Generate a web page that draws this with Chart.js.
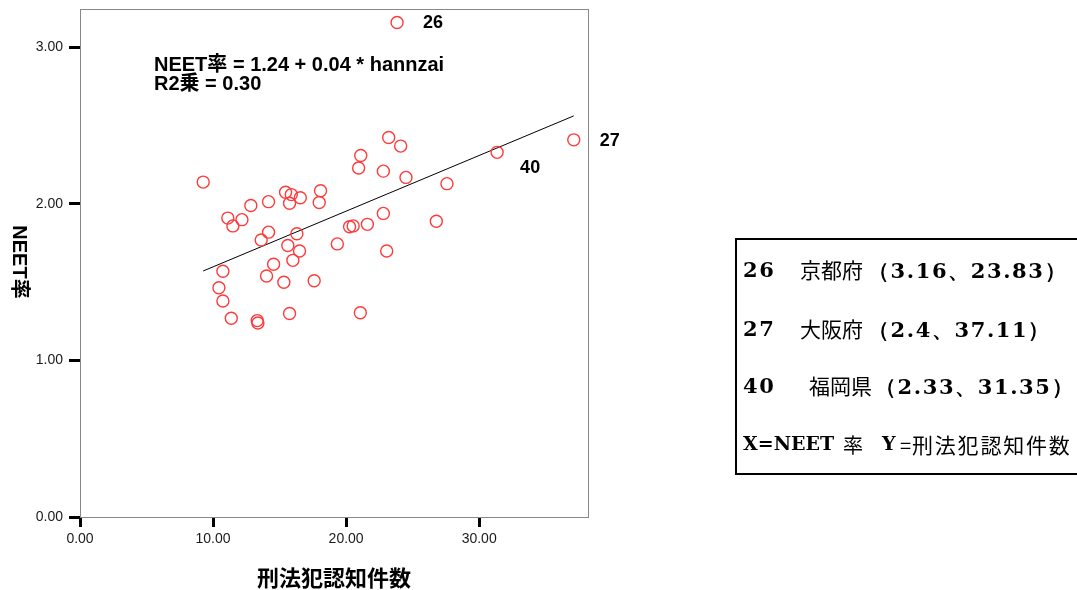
<!DOCTYPE html>
<html>
<head>
<meta charset="utf-8">
<script src="https://cdn.jsdelivr.net/npm/chart.js@4.4.0/dist/chart.umd.min.js"></script>
<style>
  body { margin: 0; background: #fff; }
  #wrap { position: relative; width: 1077px; height: 590px; overflow: hidden; }
  #chart { position: absolute; left: 0; top: 0; }
  #note { position: absolute; left: 735px; top: 238px; width: 400px; height: 233px; border: 2px solid #000; }
  .t { position: absolute; white-space: pre; line-height: 1; color: #000; }
  .num { font: bold 21px "DejaVu Serif", "Liberation Serif", serif; letter-spacing: 1.6px; }
  .jp { font: 21px "Noto Sans CJK JP", sans-serif; }
</style>
</head>
<body>
<div id="wrap">
  <canvas id="chart" width="1077" height="590"></canvas>
  <div id="note">
    <span class="t num" style="left:6px;top:17px">26</span>
    <span class="t jp" style="left:63px;top:14px">京都府</span>
    <span class="t num" style="left:131px;top:17px">（3.16、23.83）</span>

    <span class="t num" style="left:6px;top:76px">27</span>
    <span class="t jp" style="left:63px;top:73px">大阪府</span>
    <span class="t num" style="left:131px;top:76px">（2.4、37.11）</span>

    <span class="t num" style="left:6px;top:133px">40</span>
    <span class="t jp" style="left:72px;top:130px">福岡県</span>
    <span class="t num" style="left:138px;top:133px">（2.33、31.35）</span>

    <span class="t num" style="left:6px;top:192px;font-size:19px;letter-spacing:0">X=NEET</span>
    <span class="t jp" style="left:106px;top:190px;font-size:20px">率</span>
    <span class="t num" style="left:145px;top:192px;font-size:19px;letter-spacing:0">Y</span>
    <span class="t jp" style="left:163px;top:190px;font-size:20px">=</span>
    <span class="t jp" style="left:175px;top:189px;font-size:21px;letter-spacing:1.8px">刑法犯認知件数</span>
  </div>
</div>
<script>
// 刑法犯認知件数 (x) and NEET率 (y) per prefecture; first three are labelled
const crimeRate = [23.83, 37.11, 31.35,
  9.26, 11.11, 11.49, 12.17, 12.84, 14.17, 15.45, 15.88, 15.75, 16.56,
  18.08, 17.98, 23.2, 24.1, 21.1, 20.94, 22.8, 24.5, 27.58, 22.8,
  26.78, 20.26, 20.53, 21.6, 19.34, 23.05, 21.07, 10.74, 10.44, 10.74,
  11.37, 13.32, 13.37, 15.75, 14.17, 13.62, 15.62, 16.3, 16.5, 16.0,
  14.55, 14.02, 15.32, 17.6];
const neetRate = [3.16, 2.41, 2.33,
  2.14, 1.91, 1.86, 1.90, 1.99, 2.015, 2.075, 2.06, 2.005, 2.04,
  2.085, 2.01, 2.425, 2.37, 2.31, 2.23, 2.21, 2.17, 2.13, 1.94,
  1.89, 1.855, 1.86, 1.87, 1.745, 1.70, 1.305, 1.57, 1.465, 1.38,
  1.27, 1.255, 1.24, 1.30, 1.82, 1.77, 1.735, 1.81, 1.70, 1.64,
  1.615, 1.54, 1.50, 1.51];

const pointLabels = ['26', '27', '40'];
const labelIndex = [0, 1, 2];
const labelDx = [26, 26, 23];
const labelDy = [1, 1, 16];

// fitted line end points
const fitX = [9.26, 37.11];
const fitY = [1.572, 2.563];

const xTicks = [0, 10, 20, 30];
const yTicks = [0, 1, 2, 3];
const xMax = 38.18;
const yMax = 3.246;

const equation = ['NEET率 = 1.24 + 0.04 * hannzai', 'R2乗 = 0.30'];
const xTitle = '刑法犯認知件数';
const yTitle = 'NEET率';

const decor = {
  id: 'decor',
  beforeDatasetsDraw(chart) {
    const { ctx, chartArea: a } = chart;
    ctx.save();
    ctx.strokeStyle = '#888';
    ctx.lineWidth = 1;
    ctx.strokeRect(a.left + 0.5, a.top + 0.5, a.right - a.left, a.bottom - a.top);
    ctx.restore();
  },
  afterDraw(chart) {
    const { ctx, scales: { x, y } } = chart;
    ctx.save();
    ctx.fillStyle = '#000';
    ctx.textBaseline = 'middle';
    ctx.textAlign = 'left';

    ctx.font = 'bold 18px "Liberation Sans", Arial, sans-serif';
    pointLabels.forEach((t, i) => {
      const k = labelIndex[i];
      ctx.fillText(t, x.getPixelForValue(crimeRate[k]) + labelDx[i], y.getPixelForValue(neetRate[k]) + labelDy[i]);
    });

    ctx.font = 'bold 20px "Liberation Sans", "Noto Sans CJK JP", sans-serif';
    ctx.fillText(equation[0], 154, 65);
    ctx.fillText(equation[1], 154, 84);

    // axis titles
    ctx.textAlign = 'center';
    ctx.font = 'bold 22px "Noto Sans CJK JP", sans-serif';
    ctx.fillText(xTitle, (chart.chartArea.left + chart.chartArea.right) / 2, 578);

    ctx.translate(19, 262);
    ctx.rotate(Math.PI / 2);
    ctx.font = 'bold 20px "Liberation Sans", "Noto Sans CJK JP", sans-serif';
    ctx.fillText(yTitle, 0, 0);
    ctx.restore();
  }
};

const tickFont = { family: '"Liberation Sans", Arial, sans-serif', size: 14 };

new Chart(document.getElementById('chart'), {
  data: {
    datasets: [{
      type: 'scatter',
      data: crimeRate.map((v, i) => ({ x: v, y: neetRate[i] })),
      pointRadius: 6,
      pointBorderWidth: 1.4,
      borderColor: '#ff3a3a',
      backgroundColor: 'rgba(0,0,0,0)'
    }, {
      type: 'line',
      data: fitX.map((v, i) => ({ x: v, y: fitY[i] })),
      borderColor: '#000',
      borderWidth: 1,
      pointRadius: 0
    }]
  },
  options: {
    responsive: false,
    animation: false,
    layout: { padding: { left: 0, top: 9, right: 489, bottom: 0 } },
    plugins: { legend: { display: false }, tooltip: { enabled: false } },
    scales: {
      x: {
        type: 'linear',
        min: 0,
        max: xMax,
        afterBuildTicks: s => { s.ticks = xTicks.map(v => ({ value: v })); },
        afterFit: s => { s.height = 73; s.paddingLeft = 0; s.paddingRight = 0; },
        border: { display: false },
        grid: { drawOnChartArea: false, drawTicks: true, tickLength: 10, tickWidth: 3, tickColor: '#000' },
        ticks: { font: tickFont, color: '#1a1a1a', padding: 4, callback: v => v.toFixed(2) }
      },
      y: {
        type: 'linear',
        min: 0,
        max: yMax,
        afterBuildTicks: s => { s.ticks = yTicks.map(v => ({ value: v })); },
        afterFit: s => { s.width = 80; s.paddingTop = 0; s.paddingBottom = 0; },
        border: { display: false },
        grid: { drawOnChartArea: false, drawTicks: true, tickLength: 11, tickWidth: 3, tickColor: '#000' },
        ticks: { font: tickFont, color: '#1a1a1a', padding: 6, callback: v => v.toFixed(2) }
      }
    }
  },
  plugins: [decor]
});
</script>
</body>
</html>
